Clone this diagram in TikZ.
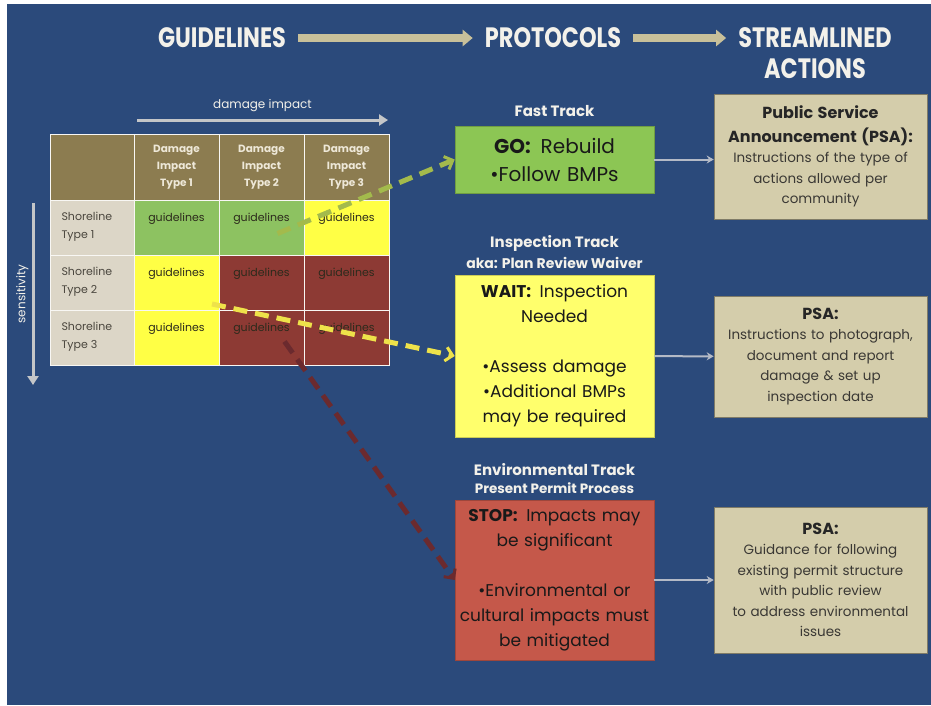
\documentclass[tikz,border=0pt]{standalone}
\usepackage{fontspec}
\setmainfont{Poppins}
\newfontfamily\titlefont{Poppins}[FakeStretch=0.8]
\usetikzlibrary{arrows.meta, positioning, calc, backgrounds}
\definecolor{slideblue}{HTML}{2B4A7B}
\definecolor{titlewhite}{HTML}{F3F1EA}
\definecolor{arrowtan}{HTML}{C8C09A}
\definecolor{axisgray}{HTML}{C4C6C8}
\definecolor{hdtan}{HTML}{8C7C50}
\definecolor{hdtext}{HTML}{EEE8D8}
\definecolor{rowbeige}{HTML}{DCD6C7}
\definecolor{rowtext}{HTML}{4A463E}
\definecolor{cellgreen}{HTML}{8DC261}
\definecolor{cellyellow}{HTML}{FFFF45}
\definecolor{cellred}{HTML}{8D3A34}
\definecolor{celltextc}{HTML}{2C2A1C}
\definecolor{gogreen}{HTML}{8CC654}
\definecolor{waityellow}{HTML}{FFFF6C}
\definecolor{stopred}{HTML}{C5584A}
\definecolor{psatan}{HTML}{D4CDAB}
\definecolor{psatext}{HTML}{3A3834}
\definecolor{linkgray}{HTML}{B4BAC6}
\definecolor{dashgreen}{HTML}{A3BA4C}
\definecolor{dashyellow}{HTML}{EEE24A}
\definecolor{dashred}{HTML}{6B2A2E}
\newcommand{\psahead}{\bfseries\color{black!85}\fontsize{16}{24}\selectfont}
\tikzset{
  % slide headings
  headtext/.style={font=\titlefont\fontsize{28}{30}\selectfont\bfseries, text=titlewhite, inner sep=6pt},
  bigarrow/.style={draw=arrowtan, line width=8pt, -{Triangle[length=10pt, width=16pt]},
    shorten <=6pt, shorten >=6pt},
  % axis arrows of the matrix
  axisarrow/.style={draw=axisgray, line width=3pt, -{Triangle[length=9pt, width=11pt]}},
  axislabel/.style={font=\fontsize{12}{14}\selectfont, text=titlewhite},
  % matrix cells
  cellbase/.style={rectangle, draw=white!80!rowbeige, line width=1pt, outer sep=0pt,
    inner sep=0pt, minimum width=85pt, minimum height=55pt},
  hdcell/.style={cellbase, fill=hdtan, minimum height=66pt, text=hdtext, align=center,
    font=\fontsize{10.5}{17}\selectfont\bfseries},
  rowcell/.style={cellbase, fill=rowbeige, minimum width=84pt,
    label={[font=\fontsize{11}{18}\selectfont, text=rowtext, align=left,
      anchor=north west, xshift=8pt, yshift=-9pt]north west:#1}},
  gdcell/.style={cellbase, fill=#1,
    label={[font=\fontsize{11}{13}\selectfont, text=celltextc, anchor=north, yshift=-10pt]north:guidelines}},
  % track labels and boxes
  tracklabel/.style={font=\fontsize{15}{18}\selectfont\bfseries, text=titlewhite, inner sep=1pt},
  trackbox/.style={rectangle, draw=#1!80!black, fill=#1, line width=0.6pt, minimum width=199pt,
    text width=195pt, align=center, inner sep=2pt, text=black!90},
  psabox/.style={rectangle, draw=psatan!60!black, fill=psatan, line width=0.6pt, minimum width=213pt,
    text width=211pt, align=center, inner sep=1pt, text=psatext, font=\fontsize{13.5}{20.5}\selectfont},
  linkarrow/.style={draw=linkgray, line width=2pt, -{Stealth[length=7pt, width=8pt]}},
  trackarrow/.style={draw=#1, line width=5pt, dash pattern=on 14pt off 8pt,
    -{Straight Barb[length=7pt, width=14pt, line width=3pt]}},
}
\begin{document}
\begin{tikzpicture}[x=1pt, y=-1pt]
  % slide background
  \fill[white] (0,0) rectangle (931,705);
  \fill[slideblue] (7,4) rectangle (931,705);
  \useasboundingbox (0,0) rectangle (931,705);

  % headings
  \node[headtext] (guide) at (222,38) {GUIDELINES};
  \node[headtext] (proto) at (553,38) {PROTOCOLS};
  \node[headtext] (stream) at (815,38) {STREAMLINED};
  \node[headtext, below=-2pt of stream] (actions) {ACTIONS};
  \draw[bigarrow] (guide) -- (proto);
  \draw[bigarrow] (proto) -- (stream);

  % damage / sensitivity matrix
  \node[hdcell, minimum width=84pt, anchor=north west] (h0) at (50,134) {};
  \node[hdcell, right=0pt of h0] (h1) {Damage\\Impact\\Type 1};
  \node[hdcell, right=0pt of h1] (h2) {Damage\\Impact\\Type 2};
  \node[hdcell, right=0pt of h2] (h3) {Damage\\Impact\\Type 3};

  \node[rowcell={Shoreline\\Type 1}, below=0pt of h0] (s1) {};
  \node[gdcell=cellgreen, right=0pt of s1] (c11) {};
  \node[gdcell=cellgreen, right=0pt of c11] (c12) {};
  \node[gdcell=cellyellow, right=0pt of c12] (c13) {};

  \node[rowcell={Shoreline\\Type 2}, below=0pt of s1] (s2) {};
  \node[gdcell=cellyellow, right=0pt of s2] (c21) {};
  \node[gdcell=cellred, right=0pt of c21] (c22) {};
  \node[gdcell=cellred, right=0pt of c22] (c23) {};

  \node[rowcell={Shoreline\\Type 3}, below=0pt of s2] (s3) {};
  \node[gdcell=cellyellow, right=0pt of s3] (c31) {};
  \node[gdcell=cellred, right=0pt of c31] (c32) {};
  \node[gdcell=cellred, right=0pt of c32] (c33) {};

  % matrix axes
  \coordinate (impstart) at ($(h1.north west)+(3,-14)$);
  \coordinate (impend) at ($(h3.north east)+(-1,-14)$);
  \draw[axisarrow] (impstart) -- (impend) node[axislabel, midway, above=3pt] {damage impact};
  \coordinate (senstop) at ($(s1.north west)+(-17,3)$);
  \coordinate (sensend) at ($(s3.south west)+(-17,20)$);
  \draw[axisarrow] (senstop) -- (sensend)
    node[axislabel, midway, rotate=90, anchor=south, inner sep=3pt] {sensitivity};

  % protocol tracks
  \node[trackbox=gogreen, minimum height=67pt, font=\fontsize{20}{28}\selectfont] (go) at (554.5,159.5)
    {\textbf{GO:}\enspace Rebuild\\\textbullet Follow BMPs};
  \node[tracklabel, above=8pt of go] (fast) {Fast Track};

  \node[trackbox=waityellow, minimum height=162pt, font=\fontsize{17}{25}\selectfont] (wait) at (554.5,356)
    {\textbf{WAIT:}\enspace Inspection\\Needed\\[25pt]\textbullet Assess damage\\\textbullet Additional BMPs\\may be required};
  \node[tracklabel, font=\fontsize{14}{17}\selectfont\bfseries, above=5pt of wait] (aka) {aka: Plan Review Waiver};
  \node[tracklabel, above=3pt of aka] (insp) {Inspection Track};

  \node[trackbox=stopred, minimum height=160pt, font=\fontsize{17}{25}\selectfont] (stop) at (554.5,580)
    {\textbf{STOP:}\enspace Impacts may\\be significant\\[25pt]\textbullet Environmental or\\cultural impacts must\\be mitigated};
  \node[tracklabel, font=\fontsize{13.5}{16}\selectfont\bfseries, above=5pt of stop] (present) {Present Permit Process};
  \node[tracklabel, above=5pt of present] (env) {Environmental Track};

  % streamlined actions
  \node[psabox, minimum height=125pt] (psa1) at (820.5,156.5)
    {{\psahead Public Service\\Announcement (PSA):\par}Instructions of the type of\\actions allowed per\\community};
  \node[psabox, minimum height=121pt] (psa2) at (820.5,356.5)
    {{\psahead PSA:\par}Instructions to photograph,\\document and report\\damage \& set up\\inspection date};
  \node[psabox, minimum height=146pt] (psa3) at (820.5,580)
    {{\psahead PSA:\par}Guidance for following\\existing permit structure\\with public review\\to address environmental\\issues};

  \draw[linkarrow] (go.east) -- (go.east -| psa1.west);
  \draw[linkarrow] (wait) -- (psa2);
  \draw[linkarrow] (stop) -- (psa3);

  % matrix cells to tracks
  \coordinate (gostart) at ($(c12.center)+(16,6)$);
  \coordinate (waitstart) at ($(c21.south east)+(-7,-6)$);
  \coordinate (stopstart) at ($(c32.center)+(23,4)$);
  \draw[trackarrow=dashgreen] (gostart) -- (go.west);
  \draw[trackarrow=dashyellow] (waitstart) -- (wait.west);
  \draw[trackarrow=dashred] (stopstart) -- (stop.west);
\end{tikzpicture}
\end{document}
